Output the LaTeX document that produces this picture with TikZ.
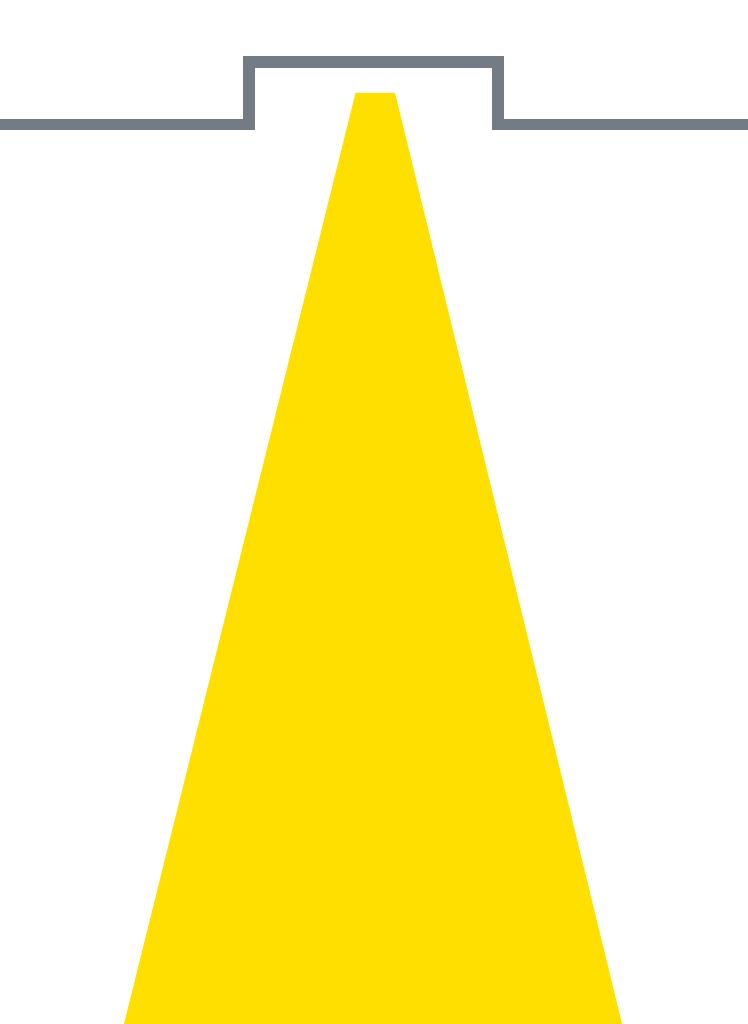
\documentclass[tikz,border=0pt]{standalone}
\usepackage{tikz}
\usepackage{xcolor}
\definecolor{ceilinggray}{HTML}{737B85}
\definecolor{beamyellow}{HTML}{FFDF00}

\begin{document}
\begin{tikzpicture}[x=1pt,y=-1pt]
\tikzset{ceiling/.style={draw=ceilinggray,line width=11.5pt,line join=miter},
beam/.style={fill=beamyellow,draw=none}}
\useasboundingbox (0,0) rectangle (747,1024);
\fill[white] (0,0) rectangle (747,1024);
\coordinate (lamptopleft) at (355.5,93);
\coordinate (lamptopright) at (395,93);
\coordinate (floorleft) at (124,1024);
\coordinate (floorright) at (622,1024);
\fill[beam] (lamptopleft) -- (lamptopright) -- (floorright) -- (floorleft) -- cycle;
\draw[ceiling] (-10,124.5) -- (249,124.5) -- (249,62) -- (498,62) -- (498,124.5) -- (757,124.5);
\end{tikzpicture}
\end{document}
